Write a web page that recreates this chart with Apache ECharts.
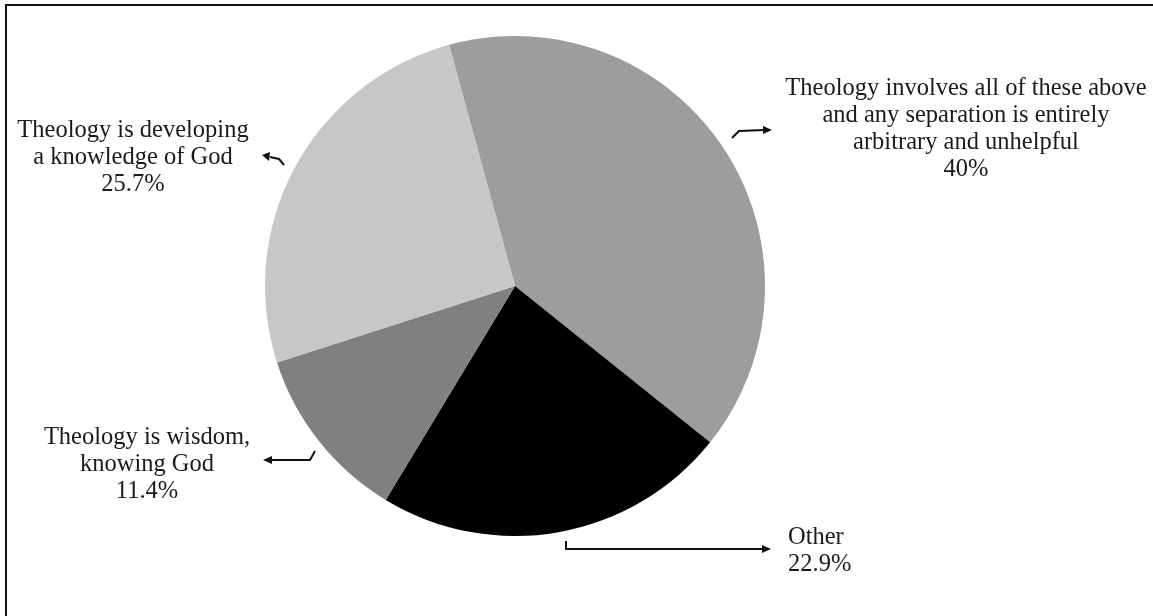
<!DOCTYPE html>
<html>
<head>
<meta charset="utf-8">
<script src="https://cdn.jsdelivr.net/npm/echarts@6/dist/echarts.min.js"></script>
<style>html,body{margin:0;padding:0;background:#fff;}#c{width:1153px;height:616px;}</style>
</head>
<body>
<div id="c"></div>
<script>
const categories = [
  'Theology involves all of these above\nand any separation is entirely\narbitrary and unhelpful',
  'Other',
  'Theology is wisdom,\nknowing God',
  'Theology is developing\na knowledge of God'
];
const values = [40, 22.9, 11.4, 25.7];
const valueLabels = ['40%', '22.9%', '11.4%', '25.7%'];
const colors = ['#9d9d9d', '#000000', '#808080', '#c7c7c7'];

const labelPos = [
  {x: 966, y: 129, align: 'center'},
  {x: 788, y: 551, align: 'left'},
  {x: 147, y: 465, align: 'center'},
  {x: 133, y: 158, align: 'center'}
];

const chart = echarts.init(document.getElementById('c'), null, {renderer: 'canvas'});

function head(tip, dir) {
  const L = 9, W = 4;
  const bx = dir === 'r' ? tip[0] - L : tip[0] + L;
  return {type: 'polygon', shape: {points: [tip, [bx, tip[1] - W], [bx, tip[1] + W]]}, style: {fill: '#111'}, silent: true};
}
function line(pts) {
  return {type: 'polyline', shape: {points: pts}, style: {stroke: '#111', lineWidth: 2, fill: null}, silent: true};
}

chart.setOption({
  animation: false,
  backgroundColor: '#fff',
  graphic: [
    {type: 'rect', shape: {x: 6, y: 5, width: 1300, height: 800}, style: {stroke: '#111', lineWidth: 2, fill: null}, silent: true, z: 100},
    line([[732, 138], [739, 131], [764, 130]]), head([772, 130], 'r'),
    line([[284, 165], [279, 159], [270, 157]]), {type: 'polygon', shape: {points: [[262, 155], [270, 152], [269, 161]]}, style: {fill: '#111'}, silent: true},
    line([[315, 451], [310, 460], [271, 460]]), head([263, 460], 'l'),
    line([[566, 541], [566, 549], [762, 549]]), head([771, 549], 'r')
  ],
  series: [{
    type: 'pie',
    center: [515, 286],
    radius: [0, 250],
    startAngle: 105.3,
    clockwise: true,
    silent: true,
    emphasis: {disabled: true},
    itemStyle: {borderWidth: 0},
    labelLine: {show: false},
    label: {
      show: true,
      position: 'outside',
      fontFamily: 'Liberation Serif',
      fontSize: 24.5,
      lineHeight: 27,
      color: '#1a1a1a',
      overflow: 'none',
      formatter: p => p.name + '\n' + valueLabels[p.dataIndex]
    },
    labelLayout: p => ({
      x: labelPos[p.dataIndex].x,
      y: labelPos[p.dataIndex].y,
      align: labelPos[p.dataIndex].align,
      verticalAlign: 'middle',
      hideOverlap: false,
      moveOverlap: null
    }),
    data: categories.map((n, i) => ({name: n, value: values[i], itemStyle: {color: colors[i]}}))
  }]
});
</script>
</body>
</html>
